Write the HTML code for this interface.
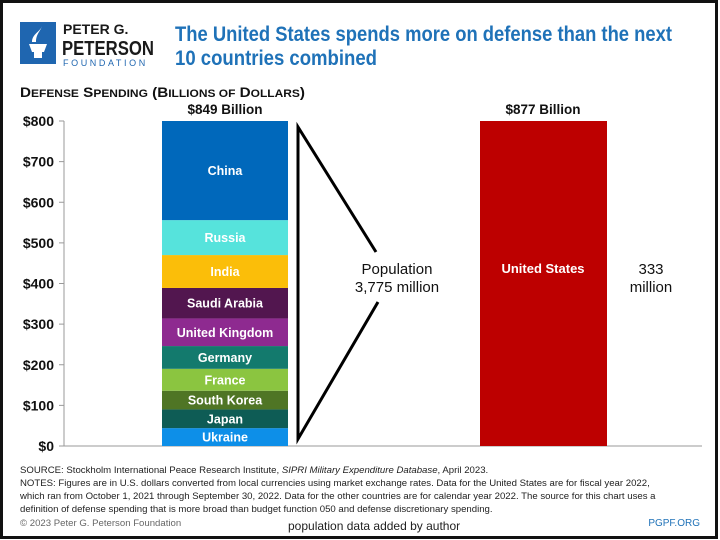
<!DOCTYPE html>
<html><head><meta charset="utf-8"><style>
body{margin:0;background:#fff;}
svg{display:block;font-family:"Liberation Sans",sans-serif;}
</style></head><body>
<svg id="c" width="720" height="540" viewBox="0 0 720 540" xmlns="http://www.w3.org/2000/svg">
<rect x="1.5" y="1.5" width="715" height="536" fill="#fff" stroke="#111" stroke-width="3"/>
<g>
<rect x="20" y="22" width="36" height="42" fill="#1f66b0"/>
<path d="M29 44 h18 l-3 8 h-12 z M34 52 h8 v6 h-8z M32 42 c0-8 8-10 10-16 c-2 6-6 8-6 16z" fill="#fff"/>
<text x="63" y="34" font-size="14" font-weight="bold" fill="#1a1a1a">PETER G.</text>
<text x="62" y="55" font-size="20" font-weight="bold" fill="#1a1a1a" textLength="92" lengthAdjust="spacingAndGlyphs">PETERSON</text>
<text x="63" y="66" font-size="9" fill="#1f66b0" letter-spacing="2.6">FOUNDATION</text>
</g>
<text x="175" y="41" font-size="21" font-weight="bold" fill="#1f72b8" textLength="497" lengthAdjust="spacingAndGlyphs">The United States spends more on defense than the next</text>
<text x="175" y="65" font-size="21" font-weight="bold" fill="#1f72b8" textLength="202" lengthAdjust="spacingAndGlyphs">10 countries combined</text>
<text x="20" y="97" font-size="14" font-weight="bold" fill="#111" textLength="285" lengthAdjust="spacingAndGlyphs">D<tspan font-size="11">EFENSE</tspan> S<tspan font-size="11">PENDING</tspan> (B<tspan font-size="11">ILLIONS OF</tspan> D<tspan font-size="11">OLLARS</tspan>)</text>
<g id="axes"></g>
<g id="bars"></g>
<g>
<polyline points="376,252 298,127 298,439 378,302" fill="none" stroke="#000" stroke-width="3"/>
</g>
<text x="397" y="274" font-size="15" text-anchor="middle" fill="#111">Population</text>
<text x="397" y="292" font-size="15" text-anchor="middle" fill="#111">3,775 million</text>
<text x="651" y="274" font-size="15" text-anchor="middle" fill="#111">333</text>
<text x="651" y="292" font-size="15" text-anchor="middle" fill="#111">million</text>
<g font-size="9.6" fill="#222">
<text x="20" y="473">SOURCE: Stockholm International Peace Research Institute, <tspan font-style="italic">SIPRI Military Expenditure Database</tspan>, April 2023.</text>
<text x="20" y="486">NOTES: Figures are in U.S. dollars converted from local currencies using market exchange rates. Data for the United States are for fiscal year 2022,</text>
<text x="20" y="499">which ran from October 1, 2021 through September 30, 2022. Data for the other countries are for calendar year 2022. The source for this chart uses a</text>
<text x="20" y="512">definition of defense spending that is more broad than budget function 050 and defense discretionary spending.</text>
</g>
<text x="20" y="526" font-size="9.6" fill="#666">© 2023 Peter G. Peterson Foundation</text>
<text x="288" y="530" font-size="12" fill="#222">population data added by author</text>
<text x="700" y="526" font-size="10" fill="#1f72b8" text-anchor="end">PGPF.ORG</text>
</svg>
<script>
const countries=["Ukraine","Japan","South Korea","France","Germany","United Kingdom","Saudi Arabia","India","Russia","China"];
const spending=[44,46,46,54,56,68,75,81,86,292];
const countryColors=["#0d8fe8","#0e5c55","#4f7525","#8bc540","#137a6d","#8e2a90","#52164f","#fbbe09","#56e3dc","#0068bb"];
const usValue=[877];
const yTicks=[0,100,200,300,400,500,600,700,800];
const yTickLabels=["$0","$100","$200","$300","$400","$500","$600","$700","$800"];
const totals=["$849 Billion","$877 Billion"];
const NS="http://www.w3.org/2000/svg";
const yMax=800,y0=446,y1=121;
function y(v){return y0-(Math.min(v,yMax)/yMax)*(y0-y1);}
function mk(t,a,p){const e=document.createElementNS(NS,t);for(const k in a)e.setAttribute(k,a[k]);p.appendChild(e);return e;}
const ax=document.getElementById('axes'),bg=document.getElementById('bars');
const yl=mk('line',{x1:64,y1:y1,x2:64,y2:y0,stroke:'#999','stroke-width':1},ax);


yTicks.forEach((v,i)=>{
 const tk=mk('line',{x1:59,x2:64,y1:y(v),y2:y(v),stroke:'#999'},ax);
 
 
 const t=mk('text',{x:54,y:y(v)+5,'font-size':14,'font-weight':'bold','text-anchor':'end',fill:'#111'},ax);
 t.textContent=yTickLabels[i];
 
 
});
let cum=0;
countries.forEach((c,i)=>{
 const a=cum,b=cum+spending[i];cum=b;
 const top=y(b),bot=y(a);
 const r=mk('rect',{x:162,y:top,width:126,height:bot-top,fill:countryColors[i]},bg);
 
 
 const t=mk('text',{x:225,y:(top+bot)/2+4.5,'font-size':12.5,'font-weight':'bold','text-anchor':'middle',fill:'#fff'},bg);
 t.textContent=c;
 
 
});
const us=mk('rect',{x:480,y:y(usValue[0]),width:127,height:y0-y(usValue[0]),fill:'#bd0000'},bg);


const ut=mk('text',{x:543,y:273,'font-size':13,'font-weight':'bold','text-anchor':'middle',fill:'#fff'},bg);
ut.textContent="United States";


[[225,totals[0]],[543,totals[1]]].forEach(([x,s])=>{
 const t=mk('text',{x:x,y:114,'font-size':13.5,'font-weight':'bold','text-anchor':'middle',fill:'#111'},bg);
 t.textContent=s;
 
 
});
const bl=mk('line',{x1:64,y1:y0,x2:702,y2:y0,stroke:'#999','stroke-width':1},ax);


</script>
</body></html>
